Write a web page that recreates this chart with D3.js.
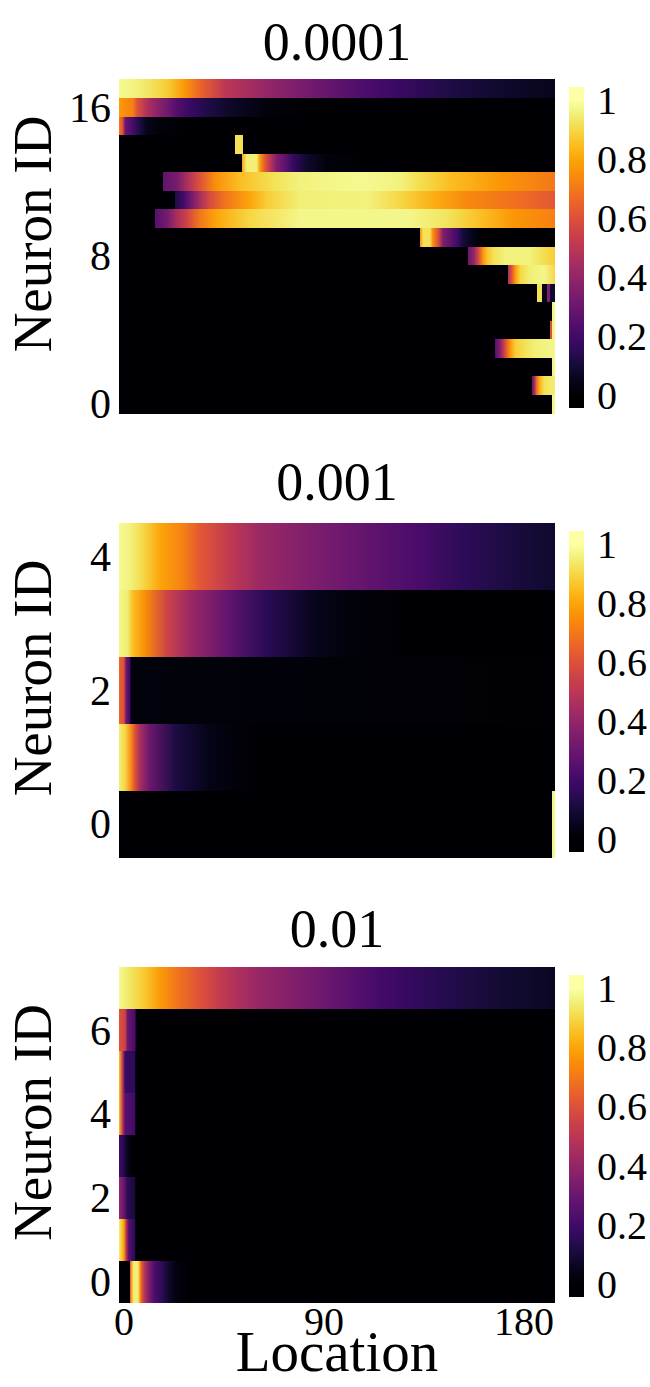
<!DOCTYPE html>
<html><head><meta charset="utf-8">
<script src="https://cdn.jsdelivr.net/npm/d3@7"></script>
<style>body{margin:0;background:#fff}text{font-family:"Liberation Serif","Times New Roman",serif;fill:#000}</style>
</head><body>
<svg id="c" width="650" height="1387"></svg>
<script>
// ---------- data ----------
const titles = ["0.0001", "0.001", "0.01"];
const locationTicks = [0, 90, 180];
const locationExtent = [-2.25, 193.95];
const colorTicks = [0, 0.2, 0.4, 0.6, 0.8, 1];
const neuronTicks1 = [0, 8, 16];
const neuronTicks2 = [0, 2, 4];
const neuronTicks3 = [0, 2, 4, 6];

// each row = neuron id (index); profile = [location, activation]
const panel1Rows = [
  [[-2.2,0],[192.6,0],[192.6,0.97],[193.9,0.97]],
  [[-2.2,0],[183.7,0],[183.7,0.3],[184.8,0.45],[185.8,0.7],[187.5,0.85],[189.1,0.92],[193.9,0.95]],
  [[-2.2,0],[192.6,0],[192.6,0.97],[193.9,0.97]],
  [[-2.2,0],[167,0],[167,0.25],[169,0.35],[170.7,0.5],[172.3,0.65],[173.9,0.78],[176.1,0.88],[180.4,0.92],[184.8,0.95],[193.9,0.97]],
  [[-2.2,0],[191.6,0],[191.6,0.6],[192.6,0.6],[192.6,0.97],[193.9,0.97]],
  [[-2.2,0],[192.6,0],[192.6,0.97],[193.9,0.97]],
  [[-2.2,0],[185.8,0],[185.8,0.92],[188,0.92],[188,0.05],[190.2,0.05],[190.2,0.35],[191.8,0.35],[191.8,0.08],[193.9,0.08]],
  [[-2.2,0],[172.8,0],[172.8,0.45],[174.5,0.6],[176.1,0.78],[178.3,0.9],[182.6,0.95],[189.1,0.97],[193.9,0.9]],
  [[-2.2,0],[154.8,0],[154.8,0.3],[157.6,0.4],[159.8,0.6],[161.4,0.75],[163.1,0.85],[166.3,0.92],[171.7,0.96],[182.6,0.96],[188,0.92],[193.9,0.88]],
  [[-2.2,0],[133.2,0],[133.2,0.75],[134.6,0.92],[137.7,0.92],[139,0.75],[141.3,0.6],[143.6,0.35],[149.9,0.2],[152.6,0.1],[157.1,0.04],[160.9,0],[193.9,0]],
  [[-2.2,0],[13.9,0],[13.9,0.25],[19.2,0.32],[23.7,0.45],[28.2,0.55],[34.2,0.7],[41.7,0.8],[56.7,0.9],[79.2,0.97],[128.4,0.97],[144.6,0.93],[160.9,0.85],[175,0.77],[193.9,0.72]],
  [[-2.2,0],[22.9,0],[22.9,0.12],[26.7,0.2],[29.7,0.3],[34.2,0.45],[38.7,0.58],[46.2,0.7],[56.7,0.8],[64.2,0.88],[79.2,0.95],[109.2,0.96],[124.2,0.9],[139.2,0.82],[154.2,0.74],[176.7,0.68],[193.9,0.62]],
  [[-2.2,0],[17.7,0],[17.7,0.28],[23.7,0.33],[28.2,0.45],[34.2,0.6],[40.9,0.75],[52.2,0.85],[67.2,0.92],[79.2,0.96],[106.7,0.98],[124.2,0.96],[131.7,0.92],[146.7,0.85],[169.2,0.77],[193.9,0.7]],
  [[-2.2,0],[52.9,0],[52.9,0.78],[55.2,0.95],[59.7,0.95],[61.2,0.78],[63.5,0.62],[65.7,0.5],[68.8,0.35],[73.2,0.25],[76.2,0.17],[82.2,0.08],[91.2,0.02],[106.7,0],[193.9,0]],
  [[-2.2,0],[50,0],[50,0.92],[53.6,0.92],[53.6,0],[193.9,0]],
  [[-2.2,0.7],[-0.6,0.6],[0.5,0.3],[3.7,0.22],[7,0.12],[10.2,0.05],[15.6,0.02],[25.4,0],[193.9,0]],
  [[-2.2,0.78],[4,0.72],[5.9,0.6],[10.4,0.47],[14,0.4],[18.5,0.33],[24,0.24],[29.7,0.18],[38,0.12],[49,0.07],[64.4,0.02],[79,0],[193.9,0]],
  [[-2.2,0.98],[7.2,0.95],[19.4,0.88],[27.5,0.77],[34.2,0.65],[45.5,0.5],[64.4,0.4],[83.7,0.32],[109.4,0.22],[124.2,0.18],[146.7,0.12],[169.2,0.08],[193.9,0.05]]
];
const panel2Rows = [
  [[-2.2,0],[192.6,0],[192.6,0.97],[193.9,0.97]],
  [[-2.2,0.95],[0.5,0.9],[3.5,0.72],[4.9,0.6],[7.2,0.45],[11.7,0.3],[22.9,0.12],[38,0.04],[56.7,0],[193.9,0]],
  [[-2.2,0.65],[-0.1,0.6],[1,0.3],[2.6,0.2],[3.2,0.02],[193.9,0]],
  [[-2.2,0.97],[1.4,0.95],[4,0.85],[9.5,0.75],[19.4,0.55],[29.7,0.42],[46.8,0.28],[63.5,0.15],[86,0.05],[101.7,0.02],[124,0],[193.9,0]],
  [[-2.2,0.98],[2.7,0.96],[8.6,0.9],[16.2,0.8],[26.6,0.72],[34.2,0.62],[49,0.5],[61.2,0.42],[79.2,0.36],[101.7,0.3],[131.9,0.22],[154.4,0.15],[169.2,0.12],[193.9,0.08]]
];
const panel3Rows = [
  [[-2.2,0],[2.6,0],[2.6,0.6],[3.7,0.85],[4.3,0.95],[6.3,0.95],[7.3,0.75],[8.1,0.6],[9.7,0.45],[11.7,0.32],[13.9,0.22],[17.2,0.15],[20,0.08],[23.5,0.03],[28.7,0],[193.9,0]],
  [[-2.2,0.95],[-0.1,0.8],[1,0.5],[2.1,0.25],[4.8,0.15],[5.3,0],[193.9,0]],
  [[-2.2,0.4],[-0.1,0.3],[1.6,0.15],[4.8,0.1],[5.3,0],[193.9,0]],
  [[-2.2,0.2],[-0.6,0.15],[1.6,0.05],[3.7,0],[193.9,0]],
  [[-2.2,0.85],[-0.6,0.5],[0.5,0.25],[4.8,0.2],[5.3,0],[193.9,0]],
  [[-2.2,0.85],[-0.6,0.5],[0.5,0.18],[4.8,0.15],[5.3,0],[193.9,0]],
  [[-2.2,0.6],[0.5,0.55],[1.6,0.3],[4.8,0.22],[5.7,0],[193.9,0]],
  [[-2.2,0.98],[2.7,0.93],[9.5,0.87],[16.2,0.78],[25.2,0.68],[34.2,0.6],[43.2,0.52],[52.2,0.46],[61.2,0.41],[74.7,0.36],[88.2,0.31],[101.7,0.26],[115.2,0.21],[128.7,0.17],[146.7,0.13],[169.2,0.09],[193.9,0.06]]
];

// ---------- layout ----------
const svg = d3.select("#c");
const defs = svg.append("defs");
const color = v => d3.interpolateInferno(Math.max(0, Math.min(1, v)));
const left = 119, right = 555;
const x = d3.scaleLinear().domain(locationExtent).range([left, right]);

const panels = [
  {rows: panel1Rows, ticks: neuronTicks1, top: 79, bottom: 413, titleY: 60},
  {rows: panel2Rows, ticks: neuronTicks2, top: 523, bottom: 857, titleY: 500},
  {rows: panel3Rows, ticks: neuronTicks3, top: 967, bottom: 1302, titleY: 947}
];

panels.forEach((p, pi) => {
  const g = svg.append("g");
  const ids = d3.range(p.rows.length);
  const y = d3.scaleBand().domain(ids.slice().reverse()).range([p.top, p.bottom]).paddingInner(0);

  // title
  g.append("text").attr("x", (left + right) / 2).attr("y", p.titleY)
    .attr("text-anchor", "middle").attr("font-size", 54).text(titles[pi]);

  // rows
  p.rows.forEach((prof, id) => {
    const gid = `g${pi}_${id}`;
    const grad = defs.append("linearGradient").attr("id", gid)
      .attr("gradientUnits", "userSpaceOnUse")
      .attr("x1", left).attr("x2", right).attr("y1", 0).attr("y2", 0);
    prof.forEach(([loc, v]) => {
      grad.append("stop")
        .attr("offset", Math.max(0, Math.min(1, (x(loc) - left) / (right - left))))
        .attr("stop-color", color(v));
    });
    g.append("rect").attr("x", left).attr("width", right - left)
      .attr("y", y(id)).attr("height", y.bandwidth() + 0.6)
      .attr("fill", `url(#${gid})`).attr("shape-rendering", "crispEdges");
  });

  // y ticks
  g.selectAll(".yt").data(p.ticks).join("text")
    .attr("x", 111).attr("y", d => y(d) + y.bandwidth() / 2)
    .attr("dy", "0.35em").attr("text-anchor", "end").attr("font-size", 42)
    .text(d => d);

  // y label
  const cy = (p.top + p.bottom) / 2 - 12;
  g.append("text").attr("transform", `translate(51,${cy}) rotate(-90)`)
    .attr("text-anchor", "middle").attr("font-size", 55).text("Neuron ID");

  // colorbar
  const cbTop = p.top + 8, cbBot = p.bottom - 5;
  const cb = d3.scaleLinear().domain([-0.045, 1.045]).range([cbBot, cbTop]);
  const cid = `cb${pi}`;
  const cgrad = defs.append("linearGradient").attr("id", cid)
    .attr("gradientUnits", "userSpaceOnUse")
    .attr("x1", 0).attr("x2", 0).attr("y1", cbBot).attr("y2", cbTop);
  d3.range(0, 1.0001, 0.05).forEach(v => {
    cgrad.append("stop").attr("offset", (cbBot - cb(v)) / (cbBot - cbTop)).attr("stop-color", color(v));
  });
  g.append("rect").attr("x", 569).attr("width", 15).attr("y", cbTop).attr("height", cbBot - cbTop)
    .attr("fill", `url(#${cid})`);
  g.selectAll(".ct").data(colorTicks).join("text")
    .attr("x", 597).attr("y", d => cb(d)).attr("dy", "0.35em")
    .attr("font-size", 40).text(d => d3.format("~g")(d));

  // x ticks only on bottom panel
  if (pi === 2) {
    g.selectAll(".xt").data(locationTicks).join("text")
      .attr("x", d => x(d)).attr("y", p.bottom + 33)
      .attr("text-anchor", "middle").attr("font-size", 40).text(d => d);
    g.append("text").attr("x", (left + right) / 2).attr("y", 1371)
      .attr("text-anchor", "middle").attr("font-size", 57).text("Location");
  }
});
</script>
</body></html>
